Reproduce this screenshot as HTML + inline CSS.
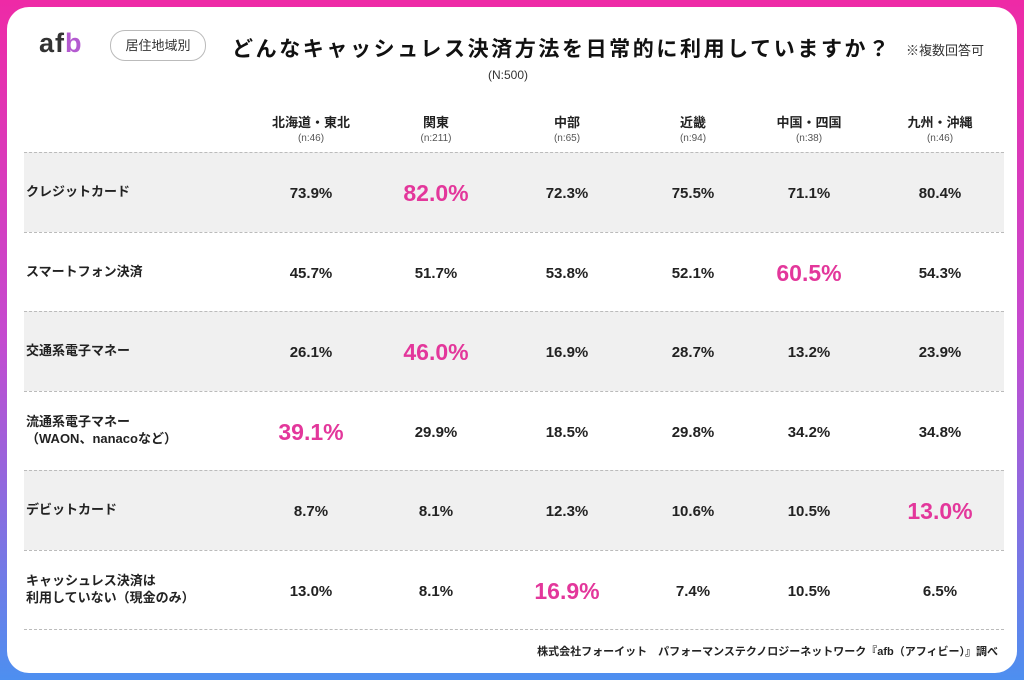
<!DOCTYPE html>
<html><head><meta charset="utf-8">
<style>
body{margin:0;width:1024px;height:680px;overflow:hidden;font-family:"Liberation Sans","Noto Sans CJK JP",sans-serif;}
#frame{position:absolute;left:0;top:0;width:1024px;height:680px;background:linear-gradient(180deg,#ee2aa6 0%,#c44bd0 50%,#4d8ff0 100%);}
#card{position:absolute;left:7px;top:7px;width:1010px;height:666px;background:#fff;border-radius:22px;}
.abs{position:absolute;}
.row{position:absolute;left:24px;width:980px;height:79px;border-top:1px dashed #bbb;}
.gray{background:#f0f0f0;}
.lab{position:absolute;left:26px;font-size:13px;font-weight:bold;color:#222;line-height:17px;}
.val{position:absolute;width:120px;text-align:center;font-size:15px;font-weight:bold;color:#222;}
.hi{font-size:23px;color:#e3379b;}
.hd{position:absolute;width:130px;text-align:center;font-size:13px;font-weight:bold;color:#222;}
.hd span{display:block;font-size:10px;font-weight:normal;color:#555;margin-top:2px;}
</style></head><body>
<div id="frame"></div>
<div id="card"></div>
<div class="abs" style="left:39px;top:28px;font-size:27px;font-weight:bold;color:#333;letter-spacing:1px;">af<span style="color:#b45ad0">b</span></div>
<div class="abs" style="left:110px;top:30px;width:94px;height:29px;border:1px solid #bbb;border-radius:15px;font-size:13px;text-align:center;line-height:29px;color:#333;">居住地域別</div>
<div class="abs" style="left:232px;top:33px;font-size:21px;font-weight:bold;color:#111;letter-spacing:2.6px;">どんなキャッシュレス決済方法を日常的に利用していますか？</div>
<div class="abs" style="left:906px;top:40px;font-size:13px;color:#333;">※複数回答可</div>
<div class="abs" style="left:488px;top:68px;font-size:12px;color:#333;">(N:500)</div>
<div id="tbl"></div>
<div class="abs" style="right:26px;top:643px;font-size:11px;font-weight:bold;color:#222;">株式会社フォーイット　パフォーマンステクノロジーネットワーク『afb（アフィビー）』調べ</div>
<script>
const regions=["北海道・東北","関東","中部","近畿","中国・四国","九州・沖縄"];
const samples=["(n:46)","(n:211)","(n:65)","(n:94)","(n:38)","(n:46)"];
const methods=["クレジットカード","スマートフォン決済","交通系電子マネー","流通系電子マネー<br>（WAON、nanacoなど）","デビットカード","キャッシュレス決済は<br>利用していない（現金のみ）"];
const v0=[73.9,82.0,72.3,75.5,71.1,80.4];
const v1=[45.7,51.7,53.8,52.1,60.5,54.3];
const v2=[26.1,46.0,16.9,28.7,13.2,23.9];
const v3=[39.1,29.9,18.5,29.8,34.2,34.8];
const v4=[8.7,8.1,12.3,10.6,10.5,13.0];
const v5=[13.0,8.1,16.9,7.4,10.5,6.5];
const values=[v0,v1,v2,v3,v4,v5];
const colX=[311,436,567,693,809,940];
const tbl=document.getElementById('tbl');
const top0=152,rh=79.5;
regions.forEach((r,i)=>{
 const d=document.createElement('div');d.className='hd';
 
 
 d.style.left=(colX[i]-65)+'px';d.style.top='112px';
 d.innerHTML=r+'<span>'+samples[i]+'</span>';tbl.appendChild(d);
});
methods.forEach((m,ri)=>{
 const y=top0+ri*rh;
 const row=document.createElement('div');row.className='row'+(ri%2==0?' gray':'');
 
 
 row.style.top=y+'px';tbl.appendChild(row);
 const l=document.createElement('div');l.className='lab';
 
 
 const two=m.includes('<br>');
 l.style.top=(y+(two?22:31))+'px';l.innerHTML=m;tbl.appendChild(l);
 const vals=values[ri];const mx=Math.max(...vals);
 vals.forEach((v,ci)=>{
  const c=document.createElement('div');c.className='val'+(v===mx?' hi':'');
  
  
  c.style.left=(colX[ci]-60)+'px';c.style.top=(y+(v===mx?28:33))+'px';
  c.textContent=v.toFixed(1)+'%';tbl.appendChild(c);
 });
});
const end=document.createElement('div');end.className='row';


end.style.top=(top0+6*rh)+'px';end.style.height='0';tbl.appendChild(end);
</script>
</body></html>
